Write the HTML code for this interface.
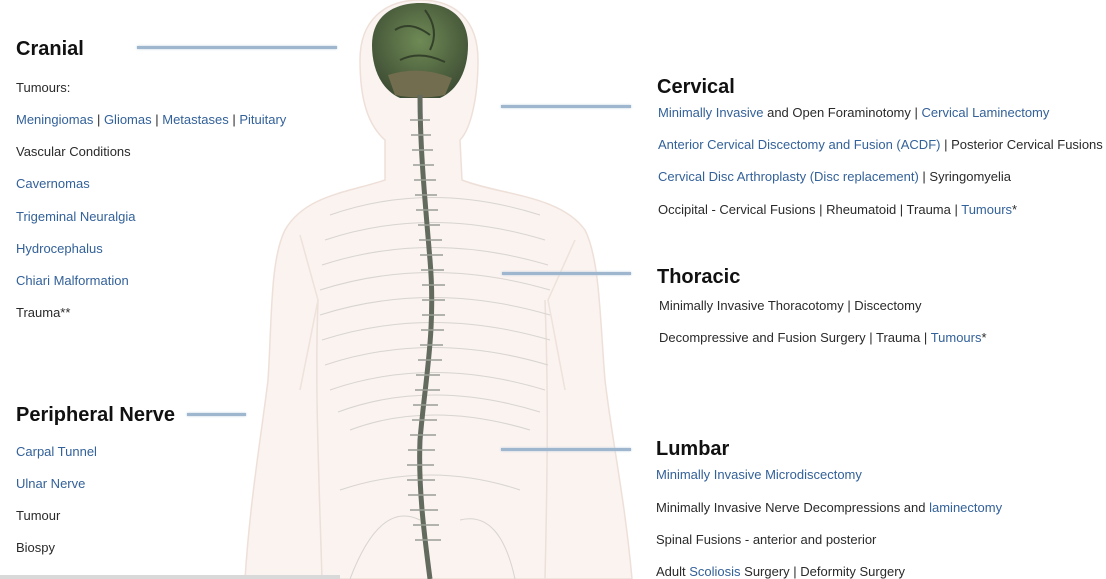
<!DOCTYPE html>
<html><head><meta charset="utf-8"><style>
html,body{margin:0;padding:0;background:#fff;width:1106px;height:579px;overflow:hidden;position:relative;font-family:"Liberation Sans",Arial,sans-serif}
.t{position:absolute;font-size:13px;line-height:16px;color:#2a2a2a;white-space:nowrap}
.h{position:absolute;font-size:20px;line-height:24px;font-weight:bold;color:#111;white-space:nowrap}
.l{color:#336199}
.ln{position:absolute;height:3px;background:#9fb6cf;box-shadow:0 0 2px #b7c9dc}
svg{position:absolute;left:0;top:0}
</style></head><body>
<svg width="1106" height="579" viewBox="0 0 1106 579">
<defs>
<radialGradient id="br" cx="50%" cy="40%" r="60%"><stop offset="0" stop-color="#6f8a55"/><stop offset="1" stop-color="#3f4f35"/></radialGradient>
</defs>
<path d="M360,60 C360,20 385,0 420,0 C455,0 478,20 478,60 C478,100 470,130 460,140 L462,180 C500,195 560,195 585,230 C600,260 600,320 605,380 C612,440 625,500 632,579 L245,579 C250,500 262,430 268,380 C272,320 270,260 285,230 C305,195 350,192 385,180 L385,140 C368,125 360,100 360,60 Z" fill="#faf3f0" stroke="#eee0d8" stroke-width="1.5"/>
<path d="M318,300 C315,380 318,450 322,579 M545,300 C548,380 548,450 545,579" stroke="#ece0d9" stroke-width="1.5" fill="none"/>
<path d="M300,235 L318,300 L300,390 M575,240 L548,300 L565,390" stroke="#eee2db" stroke-width="1.5" fill="none"/>
<g fill="none" stroke="#d8d4cf" stroke-width="1">
<path d="M330,215 Q430,180 540,215"/>
<path d="M325,240 Q430,205 545,240"/>
<path d="M322,265 Q430,230 548,265"/>
<path d="M320,290 Q430,255 550,290"/>
<path d="M320,315 Q430,280 550,315"/>
<path d="M322,340 Q430,305 550,340"/>
<path d="M325,365 Q430,330 548,365"/>
<path d="M330,390 Q430,355 545,390"/>
<path d="M338,412 Q430,378 540,412"/>
<path d="M350,430 Q430,400 530,430"/>
<path d="M340,490 Q430,460 520,490 M350,579 Q380,500 420,520 M515,579 Q500,510 460,520"/>
</g>
<path d="M372,45 C372,15 395,3 420,3 C450,3 468,18 468,45 C468,70 458,90 440,98 L400,98 C382,90 372,70 372,45 Z" fill="url(#br)"/>
<path d="M388,75 Q420,65 452,78 L445,95 Q420,100 395,95 Z" fill="#726d4e"/>
<path d="M395,30 Q410,20 430,35 M400,60 Q420,50 445,62 M425,10 Q440,30 430,50" stroke="#34412a" stroke-width="2" fill="none"/>
<path d="M420,95 C420,150 425,200 430,260 C436,330 425,380 420,440 C418,490 425,540 430,579" stroke="#636a5e" stroke-width="5" fill="none"/>
<g stroke="#9a9e96" stroke-width="1.5">
<path d="M410,120h20M411,135h20M412,150h21M413,165h21M414,180h22M415,195h22M416,210h22M418,225h22M419,240h23M420,255h23M421,270h23M422,285h23M422,300h23M422,315h23M421,330h23M420,345h23M418,360h24M416,375h24M415,390h25M413,405h25M412,420h25M410,435h26M408,450h27M407,465h27M407,480h28M408,495h28M410,510h28M413,525h26M415,540h26"/>
</g>
<rect x="0" y="575" width="340" height="4" fill="#d9d9d9"/>
</svg>

<div class="ln" style="left:137px;top:46px;width:200px"></div>
<div class="ln" style="left:187px;top:413px;width:59px"></div>
<div class="ln" style="left:501px;top:105px;width:130px"></div>
<div class="ln" style="left:502px;top:272px;width:129px"></div>
<div class="ln" style="left:501px;top:448px;width:130px"></div>

<div class="h" style="left:16px;top:37px">Cranial</div>
<div class="t" style="left:16px;top:80px">Tumours:</div>
<div class="t" style="left:16px;top:112px"><span class="l">Meningiomas</span> | <span class="l">Gliomas</span> | <span class="l">Metastases</span> | <span class="l">Pituitary</span></div>
<div class="t" style="left:16px;top:144px">Vascular Conditions</div>
<div class="t l" style="left:16px;top:176px">Cavernomas</div>
<div class="t l" style="left:16px;top:209px">Trigeminal Neuralgia</div>
<div class="t l" style="left:16px;top:241px">Hydrocephalus</div>
<div class="t l" style="left:16px;top:273px">Chiari Malformation</div>
<div class="t" style="left:16px;top:305px">Trauma**</div>

<div class="h" style="left:16px;top:403px">Peripheral Nerve</div>
<div class="t l" style="left:16px;top:444px">Carpal Tunnel</div>
<div class="t l" style="left:16px;top:476px">Ulnar Nerve</div>
<div class="t" style="left:16px;top:508px">Tumour</div>
<div class="t" style="left:16px;top:540px">Biospy</div>

<div class="h" style="left:657px;top:75px">Cervical</div>
<div class="t" style="left:658px;top:105px"><span class="l">Minimally Invasive</span> and Open Foraminotomy | <span class="l">Cervical Laminectomy</span></div>
<div class="t" style="left:658px;top:137px"><span class="l">Anterior Cervical Discectomy and Fusion (ACDF)</span> | Posterior Cervical Fusions</div>
<div class="t" style="left:658px;top:169px"><span class="l">Cervical Disc Arthroplasty (Disc replacement)</span> | Syringomyelia</div>
<div class="t" style="left:658px;top:202px">Occipital - Cervical Fusions | Rheumatoid | Trauma | <span class="l">Tumours</span>*</div>

<div class="h" style="left:657px;top:265px">Thoracic</div>
<div class="t" style="left:659px;top:298px">Minimally Invasive Thoracotomy | Discectomy</div>
<div class="t" style="left:659px;top:330px">Decompressive and Fusion Surgery | Trauma | <span class="l">Tumours</span>*</div>

<div class="h" style="left:656px;top:437px">Lumbar</div>
<div class="t l" style="left:656px;top:467px">Minimally Invasive Microdiscectomy</div>
<div class="t" style="left:656px;top:500px">Minimally Invasive Nerve Decompressions and <span class="l">laminectomy</span></div>
<div class="t" style="left:656px;top:532px">Spinal Fusions - anterior and posterior</div>
<div class="t" style="left:656px;top:564px">Adult <span class="l">Scoliosis</span> Surgery | Deformity Surgery</div>
</body></html>
